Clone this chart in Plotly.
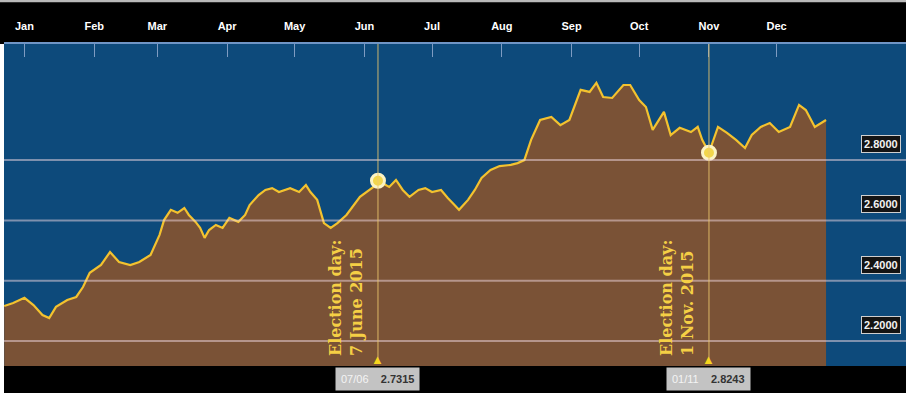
import plotly.graph_objects as go

# ---- data (USD/TRY, 2015) ----
dates = [
    "2014-12-23", "2014-12-27", "2015-01-01", "2015-01-05", "2015-01-09", "2015-01-12",
    "2015-01-15", "2015-01-20", "2015-01-24", "2015-01-27", "2015-01-30", "2015-02-04",
    "2015-02-08", "2015-02-12", "2015-02-17", "2015-02-21", "2015-02-26", "2015-03-02",
    "2015-03-04", "2015-03-07", "2015-03-10", "2015-03-13", "2015-03-15", "2015-03-18",
    "2015-03-20", "2015-03-22", "2015-03-24", "2015-03-27", "2015-03-30", "2015-04-02",
    "2015-04-06", "2015-04-09", "2015-04-11", "2015-04-15", "2015-04-18", "2015-04-21",
    "2015-04-24", "2015-04-29", "2015-05-03", "2015-05-06", "2015-05-08", "2015-05-11",
    "2015-05-14", "2015-05-17", "2015-05-20", "2015-05-24", "2015-05-30", "2015-06-05",
    "2015-06-07", "2015-06-09", "2015-06-12", "2015-06-15", "2015-06-18", "2015-06-21",
    "2015-06-25", "2015-06-28", "2015-07-01", "2015-07-05", "2015-07-08", "2015-07-11",
    "2015-07-13", "2015-07-17", "2015-07-20", "2015-07-23", "2015-07-27", "2015-07-31",
    "2015-08-05", "2015-08-08", "2015-08-11", "2015-08-14", "2015-08-18", "2015-08-23",
    "2015-08-27", "2015-08-31", "2015-09-05", "2015-09-09", "2015-09-12", "2015-09-15",
    "2015-09-19", "2015-09-24", "2015-09-27", "2015-10-01", "2015-10-04", "2015-10-07",
    "2015-10-12", "2015-10-15", "2015-10-19", "2015-10-24", "2015-10-27", "2015-10-29",
    "2015-11-01", "2015-11-05", "2015-11-09", "2015-11-13", "2015-11-17", "2015-11-20",
    "2015-11-24", "2015-11-28", "2015-12-02", "2015-12-07", "2015-12-11", "2015-12-14",
    "2015-12-18", "2015-12-23",
]
rates = [
    2.316, 2.326, 2.343, 2.319, 2.286, 2.276,
    2.313, 2.336, 2.346, 2.379, 2.426, 2.452,
    2.495, 2.462, 2.452, 2.462, 2.485, 2.552,
    2.601, 2.635, 2.625, 2.641, 2.618, 2.595,
    2.575, 2.542, 2.568, 2.585, 2.575, 2.608,
    2.595, 2.618, 2.651, 2.684, 2.701, 2.707,
    2.694, 2.707, 2.694, 2.717, 2.694, 2.668,
    2.591, 2.575, 2.591, 2.618, 2.678, 2.711,
    2.7315, 2.724, 2.711, 2.734, 2.701, 2.678,
    2.701, 2.707, 2.694, 2.701, 2.674, 2.651,
    2.635, 2.668, 2.701, 2.741, 2.767, 2.780,
    2.784, 2.790, 2.800, 2.867, 2.933, 2.943,
    2.916, 2.933, 3.033, 3.026, 3.056, 3.009,
    3.006, 3.049, 3.049, 2.999, 2.976, 2.900,
    2.960, 2.883, 2.907, 2.893, 2.910, 2.867,
    2.8243, 2.910, 2.890, 2.867, 2.840, 2.883,
    2.910, 2.923, 2.893, 2.910, 2.983, 2.966,
    2.910, 2.933,
]

month_starts = ["2015-%02d-01" % m for m in range(1, 13)]
month_labels = ["Jan", "Feb", "Mar", "Apr", "May", "Jun",
                "Jul", "Aug", "Sep", "Oct", "Nov", "Dec"]

grid_values = [2.2, 2.4, 2.6, 2.8]
grid_labels = ["2.2000", "2.4000", "2.6000", "2.8000"]

event_dates = ["2015-06-07", "2015-11-01"]
event_values = [2.7315, 2.8243]
event_value_labels = ["2.7315", "2.8243"]
event_short_dates = ["07/06", "01/11"]
event_texts = ["Election day:<br>7 June 2015", "Election day:<br>1 Nov. 2015"]

# ---- styles ----
BLUE = "#0d4a7b"
BROWN = "#7a5236"
YELLOW = "#f3c22f"

fig = go.Figure()

fig.add_trace(go.Scatter(
    x=dates, y=rates, mode="lines",
    line=dict(color=YELLOW, width=2.2, shape="linear"),
    fill="tozeroy", fillcolor=BROWN,
    hoverinfo="skip", showlegend=False,
))

fig.add_trace(go.Scatter(
    x=event_dates, y=event_values, mode="markers",
    marker=dict(size=13, color="#f2d64b", line=dict(color="#fbf3c4", width=3)),
    hoverinfo="skip", showlegend=False,
))

shapes = []
# black bands / borders
shapes.append(dict(type="rect", xref="paper", yref="paper", x0=-0.01, x1=1.01,
                   y0=-0.2, y1=0, fillcolor="black", line=dict(width=0), layer="below"))
shapes.append(dict(type="rect", xref="paper", yref="paper", x0=-0.01, x1=0,
                   y0=-0.2, y1=1, fillcolor="white", line=dict(width=0), layer="above"))
shapes.append(dict(type="rect", xref="paper", yref="paper", x0=-0.01, x1=1.01,
                   y0=1.13, y1=1.2, fillcolor="#b9b9b9", line=dict(width=0), layer="above"))
# grid lines over the area
for v in grid_values:
    shapes.append(dict(type="line", xref="paper", yref="y", x0=0, x1=1, y0=v, y1=v,
                       line=dict(color="rgba(240,215,225,0.5)", width=2), layer="above"))
# event vertical lines
for d in event_dates:
    shapes.append(dict(type="line", xref="x", yref="paper", x0=d, x1=d, y0=0.02, y1=1,
                       line=dict(color="rgba(236,200,110,0.85)", width=1), layer="above"))

annotations = []
for v, lab in zip(grid_values, grid_labels):
    annotations.append(dict(
        x=0.994, xref="paper", y=v, yref="y", xanchor="right", yanchor="middle",
        yshift=16, text="<b>%s</b>" % lab, showarrow=False,
        font=dict(family="Liberation Sans", size=11, color="#f2f2f2"),
        bgcolor="#141414", bordercolor="#cfcfcf", borderwidth=1, borderpad=2,
    ))
for d, t in zip(event_dates, event_texts):
    annotations.append(dict(
        x=d, xref="x", y=0, yref="paper", xanchor="right", yanchor="bottom",
        xshift=-10, yshift=8, text="<b>%s</b>" % t, textangle=-90, align="left",
        showarrow=False,
        font=dict(family="DejaVu Serif", size=16, color="#f5cf45"),
    ))
    annotations.append(dict(
        x=d, xref="x", y=0, yref="paper", xanchor="center", yanchor="bottom",
        yshift=-4, text="▲", showarrow=False,
        font=dict(size=13, color="#f7d51e"),
    ))
for d, sd, vl in zip(event_dates, event_short_dates, event_value_labels):
    annotations.append(dict(
        x=d, xref="x", y=0, yref="paper", xanchor="center", yanchor="top",
        yshift=-1, showarrow=False,
        text="<span style='color:#f4f4f4'>%s</span>&nbsp;&nbsp;&nbsp;&nbsp;<b>%s</b>" % (sd, vl),
        font=dict(family="Liberation Sans", size=11, color="#333333"),
        bgcolor="#c3c3c3", borderpad=5,
    ))

fig.update_layout(
    width=906, height=393, autosize=False,
    margin=dict(l=4, r=0, t=44, b=27, pad=0),
    paper_bgcolor="black", plot_bgcolor=BLUE,
    shapes=shapes, annotations=annotations, showlegend=False,
    xaxis=dict(
        type="date", range=["2014-12-22 22:00", "2016-01-27 12:00"],
        side="top", showgrid=False, zeroline=False,
        showline=True, linecolor="#6f95c6", linewidth=2,
        ticks="inside", ticklen=13, tickwidth=1, tickcolor="#7e9cc2",
        tickvals=month_starts, ticktext=["<b>%s</b>" % m for m in month_labels],
        tickfont=dict(family="Liberation Sans", size=11, color="white"),
        ticklabelstandoff=8,
    ),
    yaxis=dict(range=[2.117, 3.185], visible=False, fixedrange=True),
)

fig.write_html("out.html")
